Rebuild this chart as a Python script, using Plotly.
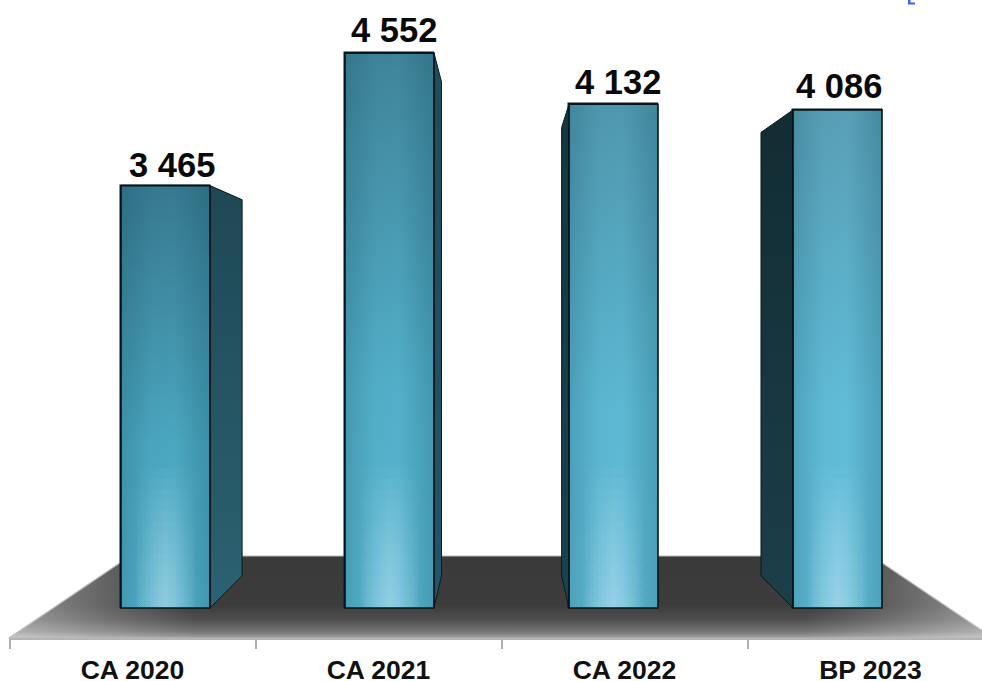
import plotly.graph_objects as go

# ---- data ----
categories = ["CA 2020", "CA 2021", "CA 2022", "BP 2023"]
values = [3465, 4552, 4132, 4086]

# ---- style per bar ----
top_colors = ["#37798f", "#3f8499", "#4f98ae", "#589fb5"]
mid_colors = ["#4aa6bf", "#52afc9", "#5cb8d3", "#60bcd8"]
low_colors = ["#52b0ca", "#58b6d0", "#5fbad5", "#62bdd8"]
side_top = ["#1e4854", "#1f4c5a", "#143640", "#122c33"]
side_bottom = ["#2c6272", "#23566a", "#1a4450", "#1c3f4a"]
label_dx = [6.5, 4, 4, 1.5]
label_gap = [0, 2, 1, 3]

W, H = 982, 681
BASE_PX, UNIT_PX = 608.0, 0.1219      # y pixel of value 0, pixels per value
X0_PX, STEP_PX = 165.5, 224.0         # x pixel of first bar, pixels between bars
BAR_W = 89.0 / STEP_PX


def xd(px):
    return (px - X0_PX) / STEP_PX


def yd(py):
    return (BASE_PX - py) / UNIT_PX


VX, VY = xd(502), yd(314)   # vanishing point of the bar depth
DEPTH = 0.11

XR = [xd(0), xd(W)]
YR = [yd(H), yd(0)]

fig = go.Figure()


def poly(xs, ys, xaxis="x2", yaxis="y2", **kw):
    fig.add_trace(go.Scatter(
        x=xs + xs[:1], y=ys + ys[:1], mode="lines", fill="toself",
        xaxis=xaxis, yaxis=yaxis, hoverinfo="skip", showlegend=False, **kw))


# ---- floor (base subplot, under the bars) ----
fx = [xd(130), xd(872), xd(993), xd(9)]
fy = [yd(556), yd(556), yd(638), yd(638)]
poly(fx, fy, "x", "y", line=dict(color="rgba(0,0,0,0)", width=0),
     fillgradient=dict(type="vertical", start=yd(556), stop=yd(638),
                       colorscale=[[0, "#3a3a3a"], [0.6, "#3c3c3c"], [0.78, "#505050"],
                                   [0.92, "#747474"], [1, "#a0a0a0"]]))
poly(fx, fy, "x", "y", line=dict(color="rgba(0,0,0,0)", width=0),
     fillgradient=dict(type="horizontal", start=xd(9), stop=xd(993),
                       colorscale=[[0, "rgba(255,255,255,0.45)"], [0.1, "rgba(255,255,255,0.2)"],
                                   [0.19, "rgba(255,255,255,0)"], [0.81, "rgba(255,255,255,0)"],
                                   [0.9, "rgba(255,255,255,0.2)"], [1, "rgba(255,255,255,0.45)"]]))
poly(fx, fy, "x", "y", line=dict(color="#bdbdbd", width=1.2), fillcolor="rgba(0,0,0,0)")

# ---- front bars (overlay subplot, over the floor) ----
xpos = list(range(len(categories)))
fig.add_trace(go.Bar(
    x=xpos, y=values, width=BAR_W, xaxis="x2", yaxis="y2", showlegend=False,
    marker=dict(color=mid_colors, line=dict(color="#0a1a20", width=1.5)),
    hovertext=categories))

# ---- shading, side faces and outlines derived from the values ----
GLOW_LAYERS = 13
for i, v in enumerate(values):
    xl, xr = i - BAR_W / 2, i + BAR_W / 2
    rect_x, rect_y = [xl, xr, xr, xl], [v, v, 0, 0]

    poly(rect_x, rect_y, line=dict(width=0, color="rgba(0,0,0,0)"),
         fillgradient=dict(type="vertical", start=v, stop=0,
                           colorscale=[[0, top_colors[i]], [0.6, mid_colors[i]], [1, low_colors[i]]]))
    poly(rect_x, rect_y, line=dict(width=0, color="rgba(0,0,0,0)"),
         fillgradient=dict(type="horizontal", start=xl, stop=xr,
                           colorscale=[[0, "rgba(15,70,90,0.22)"], [0.35, "rgba(15,70,90,0.02)"],
                                       [0.6, "rgba(15,70,90,0.0)"], [1, "rgba(15,70,90,0.24)"]]))
    # bottom highlight, built up from stacked translucent layers
    for k in range(1, GLOW_LAYERS + 1):
        h = 1150 * k / GLOW_LAYERS
        poly(rect_x, [h, h, 0, 0], line=dict(width=0, color="rgba(0,0,0,0)"),
             fillgradient=dict(type="horizontal", start=xl, stop=xr,
                               colorscale=[[0, "rgba(205,232,245,0)"], [0.14, "rgba(205,232,245,0)"],
                                           [0.5, "rgba(205,232,245,0.05)"],
                                           [0.86, "rgba(205,232,245,0)"], [1, "rgba(205,232,245,0)"]]))

    # side face on the side facing the vanishing point
    edge = xr if VX > i else xl
    back_x = edge + DEPTH * (VX - edge)
    back_top = v + DEPTH * (VY - v)
    back_bot = DEPTH * VY
    poly([edge, back_x, back_x, edge], [v, back_top, back_bot, 0],
         line=dict(color="#0a1a20", width=1),
         fillgradient=dict(type="vertical", start=v, stop=0,
                           colorscale=[[0, side_top[i]], [1, side_bottom[i]]]))
    poly(rect_x, rect_y, line=dict(color="#06141a", width=1.6), fillcolor="rgba(0,0,0,0)")

# ---- category axis (invisible helper trace so the axis is drawn) ----
fig.add_trace(go.Scatter(x=xpos, y=[0, 0, 0, 0], mode="markers", marker=dict(opacity=0),
                         xaxis="x3", yaxis="y3", hoverinfo="skip", showlegend=False))

annotations = [
    dict(x=i, y=v, xref="x", yref="y", xanchor="center", yanchor="bottom",
         xshift=label_dx[i], yshift=label_gap[i], showarrow=False,
         text=f"{v:,}".replace(",", " "),
         font=dict(family="Liberation Sans", size=34.5, color="#0a0a0a", weight=700))
    for i, v in enumerate(values)
]

hidden = dict(visible=False, showgrid=False, zeroline=False, fixedrange=True)
LAB_X0, LAB_STEP, AX_LEFT = 132.5, 246.0, 9.0
AXIS_Y = (H - 638) / H
fig.update_layout(
    width=W, height=H, margin=dict(l=0, r=0, t=0, b=0, autoexpand=False),
    paper_bgcolor="white", plot_bgcolor="rgba(0,0,0,0)", bargap=0, showlegend=False,
    annotations=annotations,
    shapes=[dict(type="path", xref="paper", yref="paper", line=dict(width=0), fillcolor="#3f62ff",
                 path=f"M {908/W} 1 L {910.5/W} 1 L {910.5/W} {1-2.5/H} L {915/W} {1-2.5/H} "
                      f"L {915/W} {1-4.5/H} L {908/W} {1-4.5/H} Z")],
    xaxis=dict(range=XR, domain=[0, 1], **hidden),
    yaxis=dict(range=YR, domain=[0, 1], **hidden),
    xaxis2=dict(range=XR, overlaying="x", anchor="y2", **hidden),
    yaxis2=dict(range=YR, overlaying="y", anchor="x2", **hidden),
    yaxis3=dict(range=[0, 1], domain=[AXIS_Y, AXIS_Y + 0.01], anchor="x3", **hidden),
    xaxis3=dict(
        domain=[AX_LEFT / W, 1], anchor="y3", side="bottom",
        range=[(AX_LEFT - LAB_X0) / LAB_STEP, (W - LAB_X0) / LAB_STEP],
        tickmode="array", tickvals=xpos, ticktext=categories,
        ticks="outside", ticklen=7, tickcolor="rgba(0,0,0,0)", tickwidth=1,
        tickfont=dict(family="Liberation Sans", size=26.5, color="#111111", weight=700),
        showline=True, linecolor="#b4b4b4", linewidth=2,
        showgrid=False, zeroline=False, fixedrange=True,
        minor=dict(tickmode="linear", tick0=-0.5, dtick=1, ticks="outside",
                   ticklen=9, tickcolor="#b0b0b0", tickwidth=2, showgrid=False),
    ),
)

fig.write_html("out.html", config=dict(displayModeBar=False, responsive=False),
               post_script="document.body.style.margin='0';document.body.style.overflow='hidden';")
